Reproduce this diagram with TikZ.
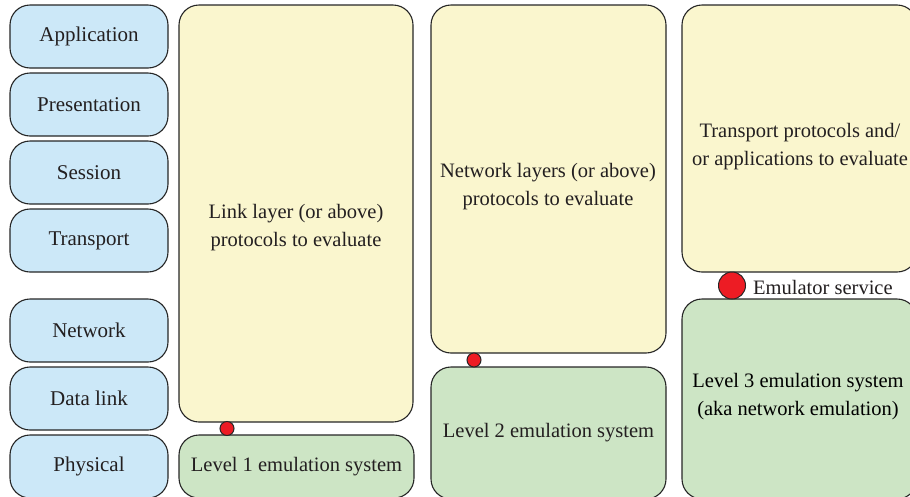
\documentclass[tikz,border=0pt]{standalone}
\usepackage{fontspec}
\setmainfont{Liberation Serif}
\definecolor{osiblue}{HTML}{CCE8F8}
\definecolor{protoyellow}{HTML}{FAF6CE}
\definecolor{emugreen}{HTML}{CDE5C5}
\definecolor{dotred}{HTML}{ED1C24}
\definecolor{inktext}{HTML}{231F20}
\begin{document}
\begin{tikzpicture}[x=1pt,y=-1pt,
  box/.style={draw=black!85, line width=1.1pt, rounded corners=20pt,
    inner sep=0pt, outer sep=0pt, rectangle},
  layer/.style={box, fill=osiblue, minimum width=158pt, minimum height=63pt,
    text=inktext, font=\fontsize{21}{28}\selectfont},
  proto/.style={box, fill=protoyellow},
  emu/.style={box, fill=emugreen},
  caption/.style={text=inktext, align=center, inner sep=0pt,
    font=\fontsize{20.5}{28}\selectfont},
  service/.style={circle, draw=black!85, line width=1pt, fill=dotred,
    inner sep=0pt, outer sep=0pt}]
\useasboundingbox (0,0) rectangle (910,496);
\clip (0,0) rectangle (910,496);

% OSI reference stack
\node[layer] (app)   at (89,36.5)  {Application};
\node[layer] (pres)  at (89,104.5) {Presentation};
\node[layer] (sess)  at (89,172.5) {Session};
\node[layer] (trans) at (89,240.5) {Transport};
\node[layer] (net)   at (89,330.5) {Network};
\node[layer] (dlink) at (89,398.5) {Data link};
\node[layer] (phys)  at (89,466.5) {Physical};

% Level 1: link layer emulation
\node[proto, minimum width=234pt, minimum height=417pt] (p1) at (296,213.5) {};
\node[caption] (p1t) at (296,228) {Link layer (or above)\\protocols to evaluate};
\node[emu, minimum width=235pt, minimum height=63pt] (e1) at (296.5,466.5) {};
\node[caption] (e1t) at (e1) {Level 1 emulation system};
\node[service, minimum size=14pt] (s1) at (227,428.5) {};

% Level 2: network layer emulation
\node[proto, minimum width=235pt, minimum height=348pt] (p2) at (548.5,179) {};
\node[caption] (p2t) at (548,187) {Network layers (or above)\\protocols to evaluate};
\node[emu, minimum width=235pt, minimum height=132pt] (e2) at (548.5,433) {};
\node[caption] (e2t) at (e2) {Level 2 emulation system};
\node[service, minimum size=14pt] (s2) at (474,360) {};

% Level 3: network emulation
\node[proto, minimum width=235pt, minimum height=267pt] (p3) at (799.5,138.5) {};
\node[caption] (p3t) at (800,147) {Transport protocols and/\\or applications to evaluate};
\node[emu, minimum width=235pt, minimum height=200pt] (e3) at (799.5,399) {};
\node[caption, text=black] (e3t) at (798,397) {Level 3 emulation system\\(aka network emulation)};
\node[service, minimum size=27pt] (s3) at (732,285.5) {};
\node[caption, anchor=west] (s3t) at (753,287) {Emulator service};
\end{tikzpicture}
\end{document}
